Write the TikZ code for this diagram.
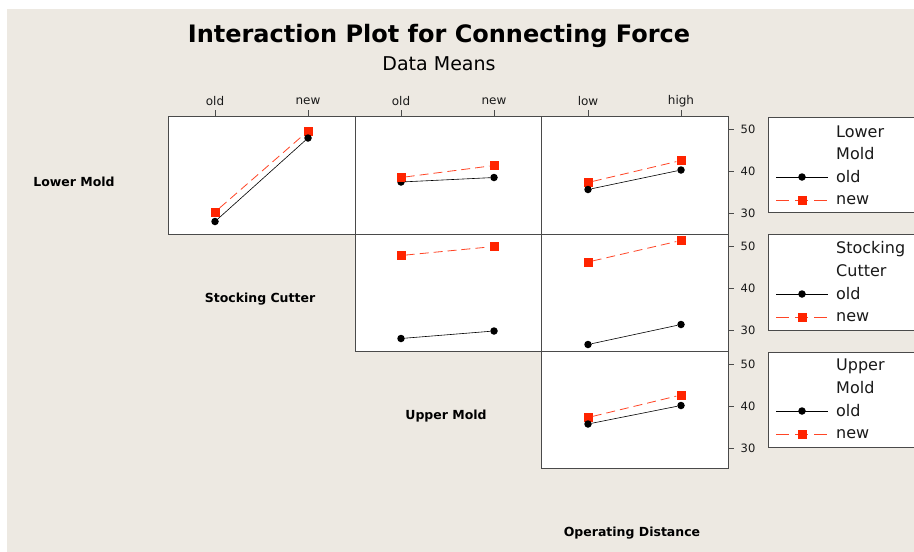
\documentclass[tikz,border=0pt]{standalone}
\usepackage{fontspec}
\setmainfont{DejaVu Sans}
\usetikzlibrary{positioning}
\definecolor{paper}{HTML}{EDE9E2}
\definecolor{marker}{HTML}{FF2400}
\definecolor{frame}{HTML}{4A4A4A}

\begin{document}
\begin{tikzpicture}[x=1pt, y=-1pt,
    panel/.style = {draw=frame, line width=0.9pt, fill=white},
    old/.style = {circle, fill=black, inner sep=0pt, minimum size=7.5pt},
    new/.style = {rectangle, fill=marker, inner sep=0pt, minimum size=9pt},
    oldline/.style = {black, line width=0.6pt},
    newline/.style = {marker!85, line width=0.8pt, dash pattern=on 9pt off 5pt},
    legline/.style = {marker!85, line width=0.8pt, dash pattern=on 13pt off 6pt},
    axistick/.style = {frame, line width=0.8pt},
    toplabel/.style = {font=\fontsize{12}{14}\selectfont, text=black!90},
    sidelabel/.style = {font=\fontsize{11.5}{14}\selectfont, text=black!90},
    factor/.style = {font=\bfseries\fontsize{12.5}{15}\selectfont},
    legtext/.style = {anchor=west, inner sep=0pt, font=\fontsize{16}{19}\selectfont, text=black!90}]
    \useasboundingbox (0,0) rectangle (914,552);
    \clip (0,0) rectangle (914,552);
    \fill[white] (0,0) rectangle (914,552);
    \fill[paper] (7,9) rectangle (914,552);

    % title
    \node (title) at (439,36) {\bfseries\fontsize{24}{28}\selectfont Interaction Plot for Connecting Force};
    \node (subtitle) at (439,64) {\fontsize{19}{22}\selectfont Data Means};

    % panels
    \draw[panel] (168,116) rectangle (355,234);
    \draw[panel] (355,116) rectangle (541,234);
    \draw[panel] (541,116) rectangle (728,234);
    \draw[panel] (355,234) rectangle (541,351);
    \draw[panel] (541,234) rectangle (728,351);
    \draw[panel] (541,351) rectangle (728,468);

    % top axis
    \draw[axistick] (215,110) -- (215,116);
    \draw[axistick] (308,110) -- (308,116);
    \draw[axistick] (401,110) -- (401,116);
    \draw[axistick] (494,110) -- (494,116);
    \draw[axistick] (588,110) -- (588,116);
    \draw[axistick] (681,110) -- (681,116);
    \node[toplabel] (t1) at (215,101) {old};
    \node[toplabel] (t2) at (308,101) {new};
    \node[toplabel] (t3) at (401,101) {old};
    \node[toplabel] (t4) at (494,101) {new};
    \node[toplabel] (t5) at (588,101) {low};
    \node[toplabel] (t6) at (681,101) {high};

    % right axis
    \draw[axistick] (728,129) -- (734,129);
    \draw[axistick] (728,171) -- (734,171);
    \draw[axistick] (728,213) -- (734,213);
    \draw[axistick] (728,246) -- (734,246);
    \draw[axistick] (728,288) -- (734,288);
    \draw[axistick] (728,330) -- (734,330);
    \draw[axistick] (728,364) -- (734,364);
    \draw[axistick] (728,406) -- (734,406);
    \draw[axistick] (728,448) -- (734,448);
    \node[sidelabel] (s1) at (748,129) {50};
    \node[sidelabel] (s2) at (748,171) {40};
    \node[sidelabel] (s3) at (748,213) {30};
    \node[sidelabel] (s4) at (748,246) {50};
    \node[sidelabel] (s5) at (748,288) {40};
    \node[sidelabel] (s6) at (748,330) {30};
    \node[sidelabel] (s7) at (748,364) {50};
    \node[sidelabel] (s8) at (748,406) {40};
    \node[sidelabel] (s9) at (748,448) {30};

    % factor names
    \node[factor] (lower) at (74,182) {Lower Mold};
    \node[factor] (cutter) at (260,299) {Stocking Cutter};
    \node[factor] (upper) at (446,416) {Upper Mold};
    \node[factor] (dist) at (632,533) {Operating Distance};

    % Lower Mold x Lower Mold
    \node[new] (r1a) at (215,212) {};
    \node[new] (r1b) at (308,131) {};
    \node[old] (k1a) at (215,221.5) {};
    \node[old] (k1b) at (308,138) {};
    \draw[newline] (r1a) -- (r1b);
    \draw[oldline] (k1a) -- (k1b);

    % Lower Mold x Stocking Cutter
    \node[old] (k2a) at (401,182) {};
    \node[old] (k2b) at (494,177.5) {};
    \node[new] (r2a) at (401,177.5) {};
    \node[new] (r2b) at (494,165.5) {};
    \draw[newline] (r2a) -- (r2b);
    \draw[oldline] (k2a) -- (k2b);

    % Lower Mold x Operating Distance
    \node[new] (r3a) at (588,182.5) {};
    \node[new] (r3b) at (681,160.5) {};
    \node[old] (k3a) at (588,189.5) {};
    \node[old] (k3b) at (681,170) {};
    \draw[newline] (r3a) -- (r3b);
    \draw[oldline] (k3a) -- (k3b);

    % Stocking Cutter x Stocking Cutter
    \node[new] (r4a) at (401,255.5) {};
    \node[new] (r4b) at (494,246.5) {};
    \node[old] (k4a) at (401,338.5) {};
    \node[old] (k4b) at (494,331) {};
    \draw[newline] (r4a) -- (r4b);
    \draw[oldline] (k4a) -- (k4b);

    % Stocking Cutter x Operating Distance
    \node[new] (r5a) at (588,262) {};
    \node[new] (r5b) at (681,240.5) {};
    \node[old] (k5a) at (588,344.5) {};
    \node[old] (k5b) at (681,324.5) {};
    \draw[newline] (r5a) -- (r5b);
    \draw[oldline] (k5a) -- (k5b);

    % Upper Mold x Operating Distance
    \node[new] (r6a) at (588,417.5) {};
    \node[new] (r6b) at (681,395) {};
    \node[old] (k6a) at (588,424) {};
    \node[old] (k6b) at (681,405.5) {};
    \draw[newline] (r6a) -- (r6b);
    \draw[oldline] (k6a) -- (k6b);

    % legends
    \draw[panel] (768,117) rectangle (930,212);
    \draw[panel] (768,234) rectangle (930,330);
    \draw[panel] (768,352) rectangle (930,447);

    \node[legtext] (g1) at (836,132) {Lower};
    \node[legtext] (g2) at (836,154) {Mold};
    \node[legtext] (g3) at (836,177) {old};
    \node[legtext] (g4) at (836,200) {new};
    \coordinate (a1) at (776,177);
    \coordinate (b1) at (828,177);
    \coordinate (c1) at (776,200);
    \coordinate (d1) at (828,200);
    \draw[oldline] (a1) -- (b1);
    \draw[legline] (c1) -- (d1);
    \node[old] (lk1) at (802,177) {};
    \node[new] (lr1) at (802,200) {};

    \node[legtext] (h1) at (836,249) {Stocking};
    \node[legtext] (h2) at (836,271) {Cutter};
    \node[legtext] (h3) at (836,294) {old};
    \node[legtext] (h4) at (836,317) {new};
    \coordinate (a2) at (776,294);
    \coordinate (b2) at (828,294);
    \coordinate (c2) at (776,317);
    \coordinate (d2) at (828,317);
    \draw[oldline] (a2) -- (b2);
    \draw[legline] (c2) -- (d2);
    \node[old] (lk2) at (802,294) {};
    \node[new] (lr2) at (802,317) {};

    \node[legtext] (u1) at (836,366) {Upper};
    \node[legtext] (u2) at (836,388) {Mold};
    \node[legtext] (u3) at (836,411) {old};
    \node[legtext] (u4) at (836,434) {new};
    \coordinate (a3) at (776,411);
    \coordinate (b3) at (828,411);
    \coordinate (c3) at (776,434);
    \coordinate (d3) at (828,434);
    \draw[oldline] (a3) -- (b3);
    \draw[legline] (c3) -- (d3);
    \node[old] (lk3) at (802,411) {};
    \node[new] (lr3) at (802,434) {};
\end{tikzpicture}
\end{document}
